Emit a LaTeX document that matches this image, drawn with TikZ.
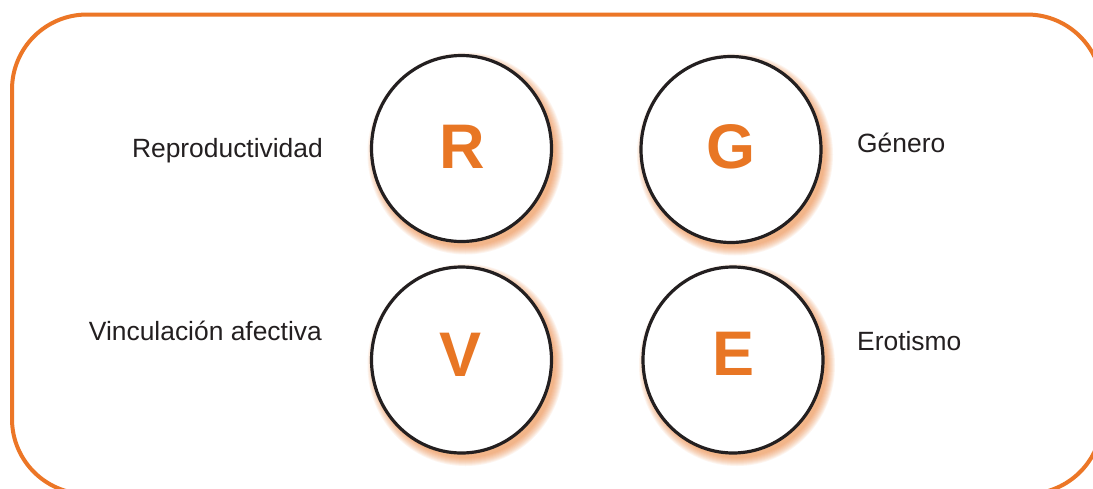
\documentclass[tikz,border=0pt]{standalone}
\usepackage{fontspec}
\setmainfont{Liberation Sans}
\usetikzlibrary{shapes.geometric,calc}
\definecolor{frameorange}{RGB}{236,118,38}
\definecolor{letterorange}{RGB}{232,118,36}
\definecolor{txtgray}{RGB}{35,31,32}
\tikzset{
  frame/.style={draw=frameorange, line width=4pt, rounded corners=75pt},
  ring/.style={ellipse, draw=txtgray, fill=white, line width=3.2pt, inner sep=0pt,
    minimum width=180pt, minimum height=186pt},
  bigletter/.style={text=letterorange, inner sep=0pt, anchor=base,
    font=\fontsize{63}{70}\selectfont\bfseries},
  lbl/.style={text=txtgray, inner sep=0pt, font=\fontsize{26.4}{30}\selectfont},
}
\newcommand{\glowat}[2]{%
  \foreach \k in {1,...,9}{%
    \fill[frameorange, opacity=0.08] ($(#1,#2)+(4,5)$) ellipse [x radius={89+\k}, y radius={92+\k}];
  }%
}
\begin{document}
\begin{tikzpicture}[x=1pt,y=-1pt]
\useasboundingbox (0,0) rectangle (1093,488);
\begin{scope}
\clip (0,0) rectangle (1093,488);
\fill[white] (0,0) rectangle (1093,488);
\draw[frame] (12,14.5) rectangle (1102,494);

\glowat{461.5}{148.5}
\glowat{731}{149.5}
\glowat{461.5}{360}
\glowat{733}{360}

\node[ring] (cR) at (461.5,148.5) {};
\node[ring] (cG) at (731,149.5) {};
\node[ring] (cV) at (461.5,360) {};
\node[ring] (cE) at (733,360) {};

\node[bigletter] (lR) at (462.5,168) {R};
\node[bigletter] (lG) at (731,168) {G};
\node[bigletter] (lV) at (460.5,376) {V};
\node[bigletter] (lE) at (733.5,375) {E};

\node[lbl, anchor=base east] (tR) at (323,157) {Reproductividad};
\node[lbl, anchor=base east] (tV) at (322,340) {Vinculación afectiva};
\node[lbl, anchor=base west] (tG) at (857,152) {Género};
\node[lbl, anchor=base west] (tE) at (857,350) {Erotismo};
\end{scope}
\end{tikzpicture}
\end{document}
